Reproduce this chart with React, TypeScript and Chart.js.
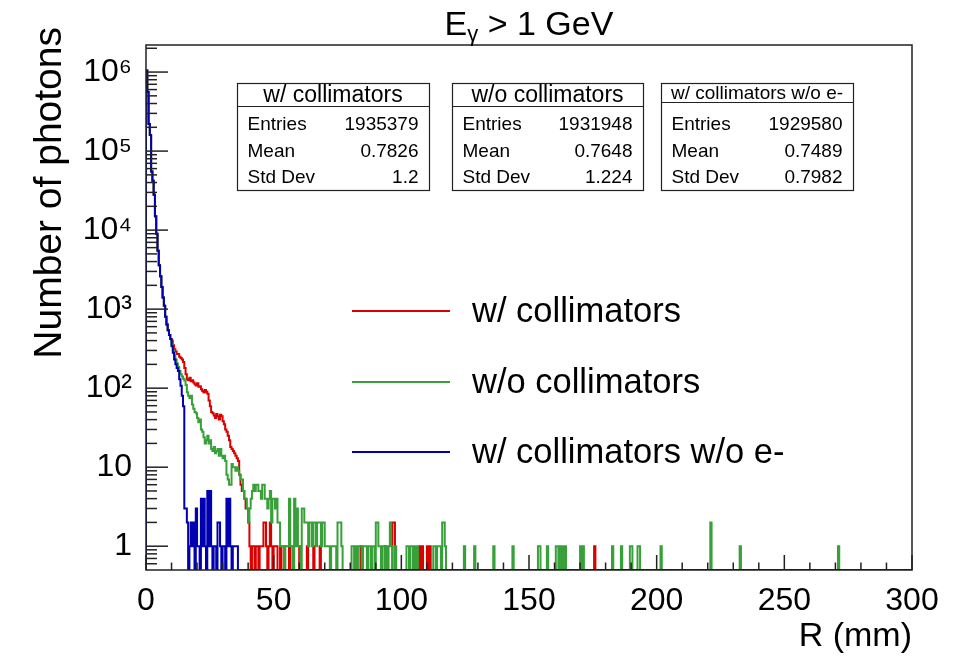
import React, { useEffect, useRef } from 'react';
import { Chart, registerables } from 'chart.js';

Chart.register(...registerables);

// ---------------- data ----------------
const BIN_WIDTH = 0.5; // mm
const X_MIN = 0;
const X_MAX = 300;
const Y_MIN = 0.5;
const Y_MAX = 2.2e6;

const seriesLabels = ['w/ collimators', 'w/o collimators', 'w/ collimators w/o e-'];
const seriesColors = ['#d90000', '#38a038', '#0000b0'];

const xAxisTitle = 'R (mm)';
const yAxisTitle = 'Number of photons';

// bins 0..19 (0-10 mm), identical for all three histograms
const commonHead = [
  1.05e6, 5.6e5, 2.2e5, 1.6e5, 5.5e4, 4.2e4, 2.8e4, 1.5e4, 9.0e3, 5.5e3,
  3.6e3, 2.6e3, 1.9e3, 1.4e3, 1.1e3, 800, 640, 540, 470, 420,
];

// bins from 20 (10 mm) onwards
const redHead = [
  400, 350, 310, 290, 270, 270, 250, 240, 230, 214,
  180, 150, 130, 126, 135, 122, 126, 118, 112, 108,
  115, 104, 106, 97, 92, 88, 95, 90, 85, 70,
  59, 50, 48, 45, 42, 47, 44, 40, 46, 44,
  38, 35, 30, 28, 25, 22, 18, 17, 16, 15,
  14, 13, 12, 8, 6, 5, 5, 4, 3, 3,
  2, 1, 0, 1, 1, 0, 1, 1, 0, 1,
  1, 1, 2, 2, 1, 0, 1, 2, 1, 0,
  1, 1, 1, 0, 0, 1, 0, 0, 1, 0,
];

const greenHead = [
  350, 300, 260, 230, 205, 185, 165, 150, 140, 132,
  125, 110, 89, 80, 75, 80, 62, 55, 50, 48,
  42, 37, 40, 30, 28, 24, 20, 22, 25, 20,
  22, 17, 16, 18, 15, 16, 17, 14, 17, 14,
  13, 14, 12, 8, 7, 6, 6, 11, 10, 10,
  9, 10, 9, 8, 7, 7, 5, 4, 4, 3,
  2, 3, 4, 5, 6, 5, 6, 6, 5, 5,
  4, 6, 6, 4, 4, 3, 4, 5, 2, 4,
  4, 3, 4, 2, 2, 1, 1, 1, 0, 1,
  1, 1, 4, 1, 1, 0, 4, 1, 3, 1,
  1, 0, 3, 3, 2, 2, 2, 1, 2, 2,
  1, 2, 2, 1, 2, 2, 2, 1, 2, 2,
  1, 1, 1, 1, 0, 1, 1, 1, 1, 0,
  2, 2, 2, 1,
];

const blueHead = [
  340, 280, 230, 200, 180, 165, 130, 107, 80, 59,
  3, 3, 2, 0, 1, 2, 1, 2, 0, 3,
  1, 1, 0, 4, 1, 4, 1, 0, 5, 1,
  5, 1, 0, 1, 1, 0, 2, 2, 1, 0,
  1, 1, 0, 4, 1, 4, 1, 0, 1, 1,
  1, 1,
];

// sparse tails: [R (bin low edge, mm), count]
const redTail: [number, number][] = [
  [56, 1], [57.5, 1], [60, 1], [63, 1], [65.5, 1], [68, 1], [84, 1], [93.5, 1],
  [96.5, 2], [97, 2], [107, 1], [108, 1], [110, 1], [111, 1], [175.5, 1],
];

const greenTail: [number, number][] = [
  [80.5, 1], [81, 1], [82, 1], [83, 1], [83.5, 1], [84, 1], [85, 1], [85.5, 1],
  [86, 1], [87, 1], [87.5, 1], [88.5, 1], [89, 1], [90, 2], [90.5, 2], [91, 1],
  [91.5, 1], [92.5, 1], [93, 1], [94, 1], [95, 1], [95.5, 2], [96, 1], [97.5, 1],
  [102, 1], [102.5, 1], [103.5, 1], [104, 1], [105, 1], [106, 1], [112.5, 1],
  [113, 1], [114, 1], [114.5, 1], [115, 1], [116, 2], [116.5, 2], [117, 1],
  [124.5, 1], [128.5, 1], [136, 1], [143.5, 1], [153.5, 1], [154, 1], [157, 1],
  [160.5, 1], [161, 1], [162, 1], [163, 1], [164, 1], [170, 1], [171, 1],
  [182.5, 1], [186, 1], [189.5, 1], [190, 1], [192.5, 1], [193, 1], [201.5, 1],
  [221, 2], [232.5, 1], [271, 1],
];

const blueTail: [number, number][] = [];

const statEntries = ['1935379', '1931948', '1929580'];
const statMean = ['0.7826', '0.7648', '0.7489'];
const statStdDev = ['1.2', '1.224', '0.7982'];

const xTickValues = [0, 50, 100, 150, 200, 250, 300];
const yTickValues = [1, 10, 100, 1e3, 1e4, 1e5, 1e6];
const yTickLabels = ['1', '10', '10²', '10³', '10⁴', '10⁵', '10⁶'];

// ---------------- helpers ----------------
function buildCounts(head: number[], tail: [number, number][]): number[] {
  const n = Math.round((X_MAX - X_MIN) / BIN_WIDTH);
  const c: number[] = new Array(n).fill(0);
  commonHead.forEach((v, i) => (c[i] = v));
  head.forEach((v, i) => (c[commonHead.length + i] = v));
  tail.forEach(([r, v]) => (c[Math.round((r - X_MIN) / BIN_WIDTH)] = v));
  return c;
}

function toPoints(counts: number[]) {
  const pts: { x: number; y: number }[] = [{ x: X_MIN, y: Y_MIN }];
  counts.forEach((v, i) => pts.push({ x: X_MIN + i * BIN_WIDTH, y: v > 0 ? v : Y_MIN }));
  const last = counts[counts.length - 1];
  pts.push({ x: X_MAX, y: last > 0 ? last : Y_MIN });
  return pts;
}

const FONT = '"Liberation Sans", Arial, Helvetica, sans-serif';

const overlayPlugin = {
  id: 'rootOverlay',
  afterDatasetsDraw(chart: any) {
    const { ctx, chartArea: a, scales } = chart;
    const x = scales.x;
    const y = scales.y;
    ctx.save();
    ctx.strokeStyle = '#222';
    ctx.lineWidth = 1.5;
    for (let v = X_MIN; v <= X_MAX; v += 10) {
      const px = x.getPixelForValue(v);
      const len = v % 50 === 0 ? 15 : 7.5;
      ctx.beginPath();
      ctx.moveTo(px, a.bottom);
      ctx.lineTo(px, a.bottom - len);
      ctx.stroke();
    }
    for (let e = -1; e <= 6; e++) {
      for (let m = 1; m <= 9; m++) {
        const v = m * Math.pow(10, e);
        if (v <= Y_MIN || v >= Y_MAX) continue;
        const py = y.getPixelForValue(v);
        const len = m === 1 ? 22 : 11;
        ctx.beginPath();
        ctx.moveTo(a.left, py);
        ctx.lineTo(a.left + len, py);
        ctx.stroke();
      }
    }
    ctx.strokeRect(a.left, a.top, a.right - a.left, a.bottom - a.top);
    ctx.restore();
  },
  afterDraw(chart: any) {
    const { ctx, chartArea: a } = chart;
    ctx.save();
    ctx.fillStyle = '#000';

    // title E_gamma > 1 GeV
    const big = `34px ${FONT}`;
    const small = `22px ${FONT}`;
    ctx.font = big;
    const wE = ctx.measureText('E').width;
    const wRest = ctx.measureText(' > 1 GeV').width;
    ctx.font = small;
    const wG = ctx.measureText('γ').width;
    const total = wE + wG + wRest;
    let tx = (a.left + a.right) / 2 - total / 2;
    const base = 35;
    ctx.textBaseline = 'alphabetic';
    ctx.textAlign = 'left';
    ctx.font = big;
    ctx.fillText('E', tx, base);
    tx += wE;
    ctx.font = small;
    ctx.fillText('γ', tx, base + 6);
    tx += wG;
    ctx.font = big;
    ctx.fillText(' > 1 GeV', tx, base);

    // y axis title
    ctx.save();
    ctx.translate(50, 27);
    ctx.rotate(-Math.PI / 2);
    ctx.font = `39px ${FONT}`;
    ctx.textAlign = 'right';
    ctx.textBaseline = 'middle';
    ctx.fillText(yAxisTitle, 0, 0);
    ctx.restore();

    // stats boxes
    const boxes = [
      { l: 237, r: 429, div: 106, hs: 23 },
      { l: 452, r: 643, div: 106, hs: 23 },
      { l: 661, r: 853, div: 102, hs: 19 },
    ];
    const top = 83;
    const bottom = 190;
    const rows = [125, 151.5, 178];
    boxes.forEach((b, i) => {
      ctx.fillStyle = '#fff';
      ctx.fillRect(b.l, top, b.r - b.l, bottom - top);
      ctx.strokeStyle = '#222';
      ctx.lineWidth = 1.2;
      ctx.strokeRect(b.l + 0.5, top + 0.5, b.r - b.l, bottom - top);
      ctx.beginPath();
      ctx.moveTo(b.l, b.div + 0.5);
      ctx.lineTo(b.r, b.div + 0.5);
      ctx.stroke();
      ctx.fillStyle = '#000';
      ctx.font = `${b.hs}px ${FONT}`;
      ctx.textAlign = 'center';
      ctx.textBaseline = 'middle';
      ctx.fillText(seriesLabels[i], (b.l + b.r) / 2, (top + b.div) / 2 + 1);
      ctx.font = `19px ${FONT}`;
      const names = ['Entries', 'Mean', 'Std Dev'];
      const vals = [statEntries[i], statMean[i], statStdDev[i]];
      names.forEach((nm, k) => {
        ctx.textAlign = 'left';
        ctx.fillText(nm, b.l + 10.5, rows[k]);
        ctx.textAlign = 'right';
        ctx.fillText(vals[k], b.r - 10.5, rows[k]);
      });
    });

    // legend
    const legY = [311, 382, 452];
    ctx.font = `34.5px ${FONT}`;
    ctx.textAlign = 'left';
    ctx.textBaseline = 'middle';
    seriesLabels.forEach((lab, i) => {
      ctx.strokeStyle = seriesColors[i];
      ctx.lineWidth = 2;
      ctx.beginPath();
      ctx.moveTo(352, legY[i]);
      ctx.lineTo(450, legY[i]);
      ctx.stroke();
      ctx.fillStyle = '#000';
      ctx.fillText(lab, 472, legY[i] + 1);
    });
    ctx.restore();
  },
};

export default function App() {
  const canvasRef = useRef<HTMLCanvasElement | null>(null);

  useEffect(() => {
    if (!canvasRef.current) return;
    const redCounts = buildCounts(redHead, redTail);
    const greenCounts = buildCounts(greenHead, greenTail);
    const blueCounts = buildCounts(blueHead, blueTail);
    const allCounts = [redCounts, greenCounts, blueCounts];

    const chart = new Chart(canvasRef.current, {
      type: 'line',
      data: {
        datasets: allCounts.map((c, i) => ({
          label: seriesLabels[i],
          data: toPoints(c),
          borderColor: seriesColors[i],
          backgroundColor: seriesColors[i],
          borderWidth: 2,
          pointRadius: 0,
          stepped: 'before' as const,
          fill: false,
          tension: 0,
          order: 2 - i,
        })),
      },
      options: {
        animation: false,
        responsive: false,
        parsing: false,
        normalized: true,
        layout: { padding: { top: 45, right: 48, left: 0, bottom: 0 } },
        plugins: {
          legend: { display: false },
          tooltip: { enabled: false },
          title: { display: false },
        },
        scales: {
          x: {
            type: 'linear',
            min: X_MIN,
            max: X_MAX,
            grid: { display: false, drawTicks: false },
            border: { display: false },
            afterBuildTicks: (scale: any) => {
              scale.ticks = xTickValues.map((v) => ({ value: v }));
            },
            afterFit: (scale: any) => {
              scale.height = 92;
            },
            ticks: {
              font: { family: FONT, size: 32 },
              color: '#000',
              padding: 12,
              maxRotation: 0,
              autoSkip: false,
              callback: (v: any) => String(v),
            },
            title: {
              display: true,
              text: xAxisTitle,
              align: 'end',
              color: '#000',
              font: { family: FONT, size: 34 },
              padding: { top: 0, bottom: 5 },
            },
          },
          y: {
            type: 'logarithmic',
            min: Y_MIN,
            max: Y_MAX,
            grid: { display: false, drawTicks: false },
            border: { display: false },
            afterBuildTicks: (scale: any) => {
              scale.ticks = yTickValues.map((v) => ({ value: v }));
            },
            afterFit: (scale: any) => {
              scale.width = 146;
            },
            ticks: {
              font: { family: FONT, size: 32 },
              color: '#000',
              padding: 14,
              autoSkip: false,
              callback: (v: any) => {
                const idx = yTickValues.indexOf(Number(v));
                return idx >= 0 ? yTickLabels[idx] : '';
              },
            },
            title: { display: false, text: yAxisTitle },
          },
        },
      },
      plugins: [overlayPlugin],
    });
    return () => chart.destroy();
  }, []);

  return (
    <div style={{ position: 'fixed', left: 0, top: 0, width: 960, height: 662, background: '#fff' }}>
      <canvas ref={canvasRef} width={960} height={662} style={{ display: 'block' }} />
    </div>
  );
}
